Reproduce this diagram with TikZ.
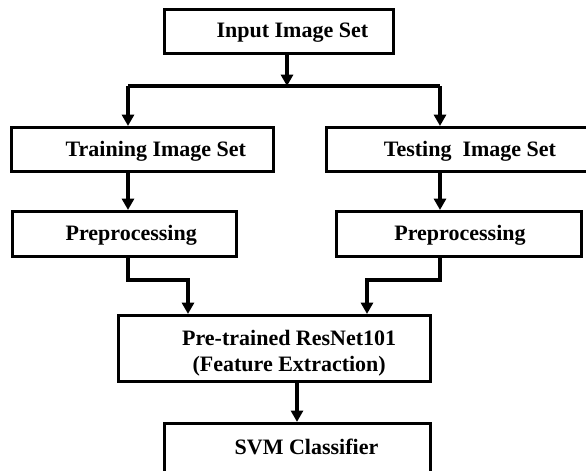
\documentclass[tikz,border=0pt]{standalone}
\usepackage{fontspec}
\setmainfont{Liberation Serif}
\usetikzlibrary{arrows.meta,positioning,calc}
\definecolor{Ink}{HTML}{000000}
\tikzset{
  >={Triangle[width=9pt,length=8.5pt]},
  box/.style={rectangle,draw=Ink,line width=2.3pt,fill=white,inner sep=0pt,minimum height=33pt},
  lbl/.style={font=\bfseries\fontsize{16.5}{19.5}\selectfont,text=Ink,align=center,inner sep=0pt},
  wire/.style={draw=Ink,line width=2.3pt},
  arr/.style={wire,->}
}
\begin{document}
\begin{tikzpicture}[x=0.75pt,y=-0.75pt]
  \useasboundingbox (0,0) rectangle (586,471);
  % boxes
  \node[box,minimum width=171.75pt,label={[lbl,xshift=10pt,yshift=-1pt]center:Input Image Set}] (inp) at (279,31.5) {};
  \node[box,minimum width=196.5pt,label={[lbl,xshift=10pt,yshift=-1pt]center:Training Image Set}] (train) at (142.5,149.5) {};
  \node[box,minimum width=198pt,label={[lbl,xshift=8.6pt,yshift=-1pt]center:Testing\hspace{0.5em}Image Set}] (test) at (458.5,149.5) {};
  \node[box,minimum width=168pt,minimum height=33.75pt,label={[lbl,xshift=5pt,yshift=-1pt]center:Preprocessing}] (prel) at (124.5,234) {};
  \node[box,minimum width=183.75pt,minimum height=33.75pt,label={[lbl,xshift=0.75pt,yshift=-1pt]center:Preprocessing}] (prer) at (459,234) {};
  \node[box,minimum width=234pt,minimum height=49.5pt,label={[lbl,xshift=11pt,yshift=-3.5pt]center:Pre-trained ResNet101\\(Feature Extraction)}] (res) at (274.5,348.5) {};
  \node[box,minimum width=199.5pt,minimum height=41pt,label={[lbl,xshift=6.75pt,yshift=2.5pt]center:SVM Classifier}] (svm) at (297.5,450.75) {};
  % junctions
  \coordinate (jn) at (287,86);
  \coordinate (jl) at (128,86);
  \coordinate (jr) at (440,86);
  \coordinate (ml) at (188,280);
  \coordinate (mr) at (367,280);
  \coordinate (dn) at (297,400);
  % connectors
  \draw[arr] (inp.south -| jn) -- (jn);
  \draw[wire] (jl) -- (jr);
  \draw[arr] (jl) -- (jl |- train.north);
  \draw[arr] (jr) -- (jr |- test.north);
  \draw[arr] (jl |- train.south) -- (jl |- prel.north);
  \draw[arr] (jr |- test.south) -- (jr |- prer.north);
  \draw[arr] (jl |- prel.south) |- (ml) -- (ml |- res.north);
  \draw[arr] (jr |- prer.south) |- (mr) -- (mr |- res.north);
  \draw[arr] (dn |- res.south) -- (dn |- svm.north);
\end{tikzpicture}
\end{document}
